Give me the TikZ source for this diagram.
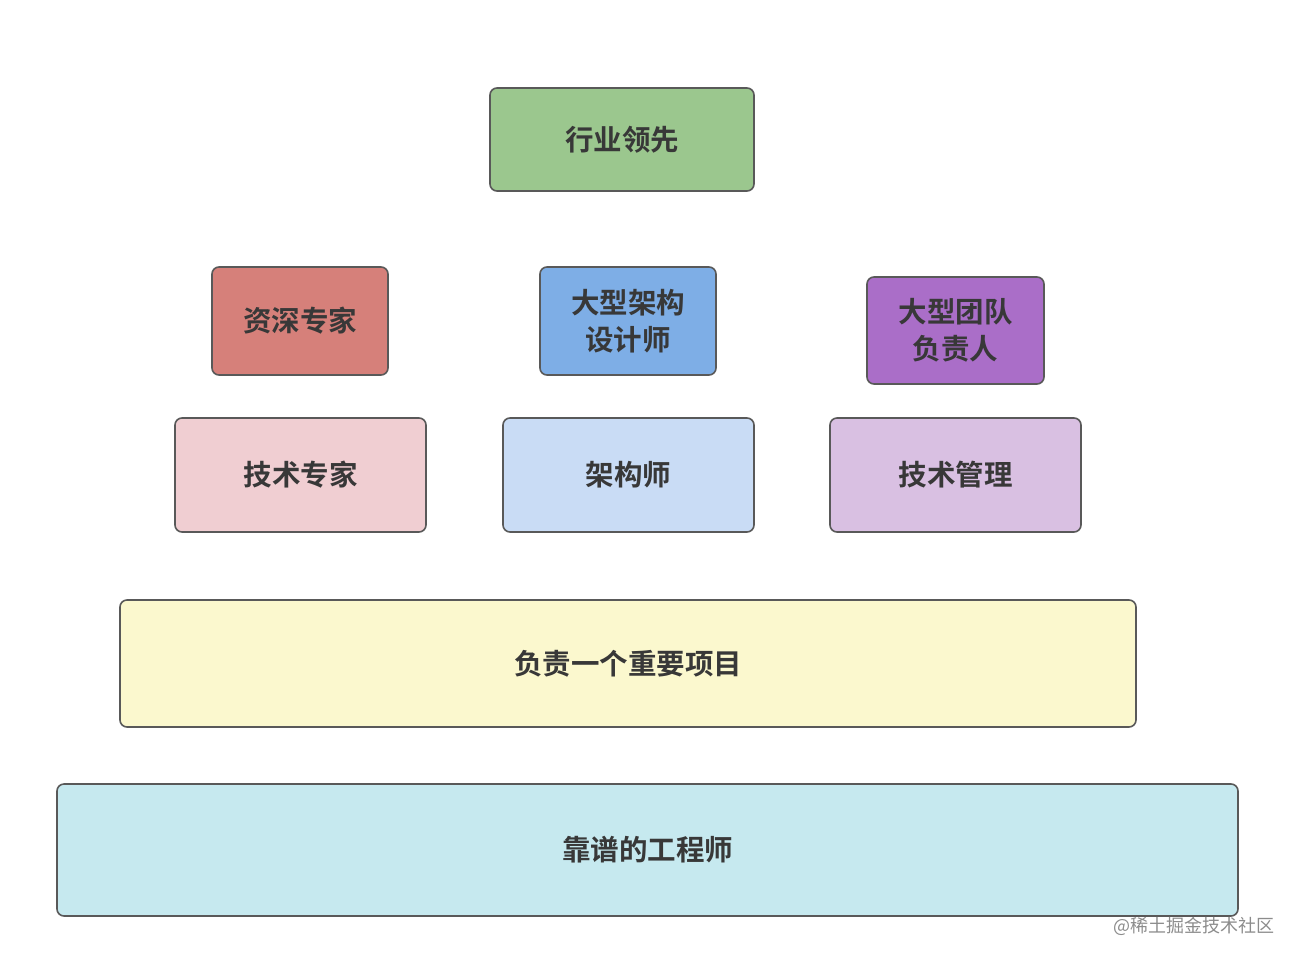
\documentclass[tikz,border=0pt]{standalone}
\usepackage{fontspec}
\usepackage{xcolor}
\usepackage{tikz}
\usetikzlibrary{positioning}
\newfontfamily\cjk{Noto Sans CJK SC}[BoldFont={Noto Sans CJK SC Bold}]

\definecolor{leadgreen}{RGB}{155,199,142}
\definecolor{seniorred}{RGB}{214,128,122}
\definecolor{archblue}{RGB}{126,174,230}
\definecolor{teampurple}{RGB}{170,110,200}
\definecolor{expertpink}{RGB}{240,206,210}
\definecolor{archlight}{RGB}{201,220,245}
\definecolor{mgmtlight}{RGB}{217,192,226}
\definecolor{projyellow}{RGB}{251,248,206}
\definecolor{engcyan}{RGB}{198,233,239}

\begin{document}
\begin{tikzpicture}
						[
						   x = 1pt, y = -1pt,
						   level/.style = {draw = black!65, line width = 1.6pt, rounded corners = 7pt,
						      align = center, text = black!78, inner sep = 0pt,
						      font = \cjk\bfseries\fontsize{28.5}{37}\selectfont},
						]
						\useasboundingbox (0,0) rectangle (1301,962);
						% top
						\node [level, fill = leadgreen, minimum width = 264pt, minimum height = 103pt] (lead) at (622,139.5) {行业领先};
						% senior level
						\node [level, fill = seniorred, minimum width = 176pt, minimum height = 108pt] (senior) at (300,321) {资深专家};
						\node [level, fill = archblue, minimum width = 176pt, minimum height = 108pt] (bigarch) at (628,321) {大型架构\\设计师};
						\node [level, fill = teampurple, minimum width = 177pt, minimum height = 107pt] (bigteam) at (955.5,330.5) {大型团队\\负责人};
						% middle level
						\node [level, fill = expertpink, minimum width = 251pt, minimum height = 114pt] (expert) at (300.5,475) {技术专家};
						\node [level, fill = archlight, minimum width = 251pt, minimum height = 114pt] (arch) at (628.5,475) {架构师};
						\node [level, fill = mgmtlight, minimum width = 251pt, minimum height = 114pt] (mgmt) at (955.5,475) {技术管理};
						% base
						\node [level, fill = projyellow, minimum width = 1016pt, minimum height = 127pt] (project) at (628,663.5) {负责一个重要项目};
						\node [level, fill = engcyan, minimum width = 1181pt, minimum height = 132pt] (engineer) at (647.5,850) {靠谱的工程师};
						\node [text = black!45, font = \cjk\fontsize{18}{20}\selectfont, anchor = east] (mark) at (1278,926) {@稀土掘金技术社区};
					\end{tikzpicture}
\end{document}
